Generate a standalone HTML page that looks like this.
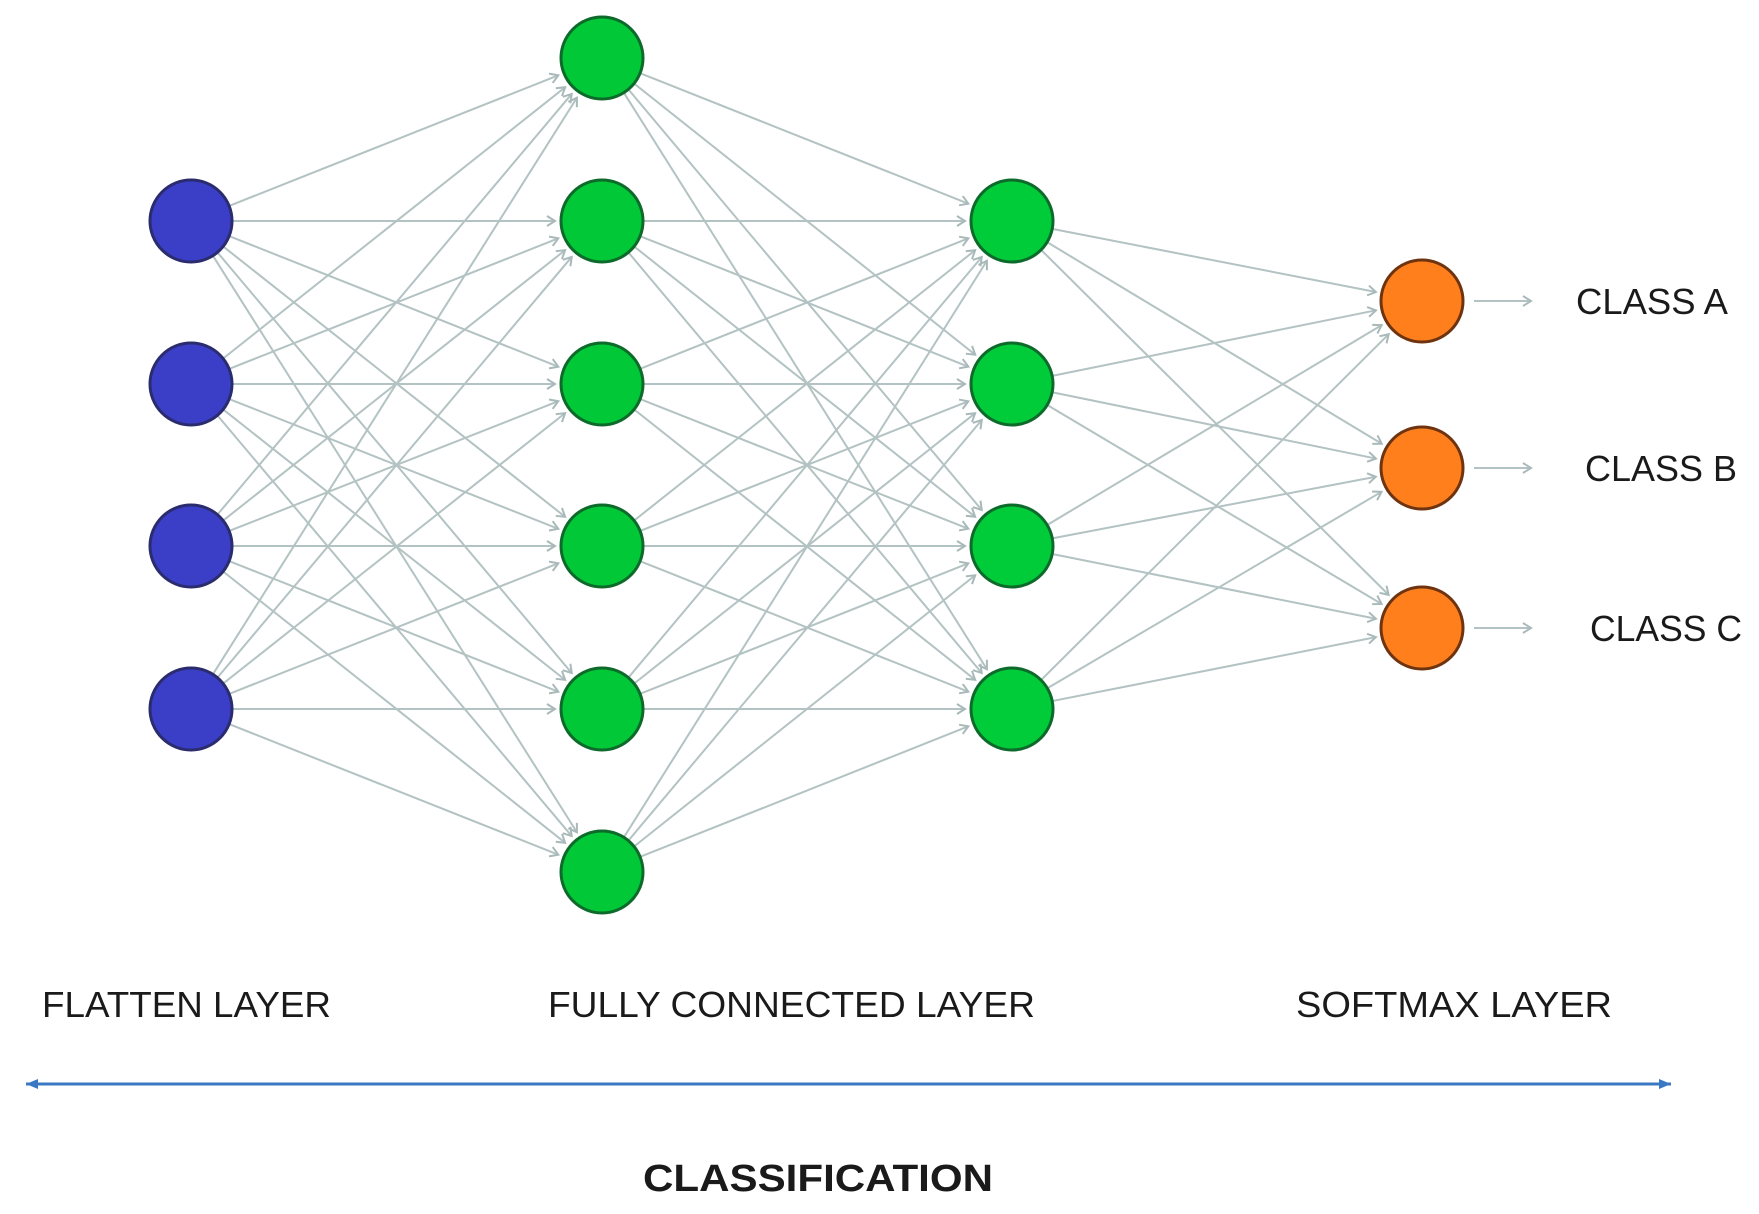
<!DOCTYPE html>
<html><head><meta charset="utf-8"><style>
html,body{margin:0;padding:0;background:#fff}
svg{display:block}
text{font-family:"Liberation Sans",sans-serif;fill:#1a1a1a}
</style></head><body>
<svg id="s" width="1759" height="1214" viewBox="0 0 1759 1214" xmlns="http://www.w3.org/2000/svg">
<defs>
<marker id="ah" markerWidth="12" markerHeight="12" refX="10" refY="6" orient="auto" markerUnits="userSpaceOnUse">
<path d="M2,1 L10,6 L2,11" fill="none" stroke="#a9b9b9" stroke-width="2"/>
</marker>
<marker id="bl" markerWidth="14" markerHeight="12" refX="12" refY="6" orient="auto" markerUnits="userSpaceOnUse">
<path d="M0,1 L12,6 L0,11 Z" fill="#3b78c3"/>
</marker>
<marker id="br" markerWidth="14" markerHeight="12" refX="12" refY="6" orient="auto-start-reverse" markerUnits="userSpaceOnUse">
<path d="M0,1 L12,6 L0,11 Z" fill="#3b78c3"/>
</marker>
</defs>
<g id="lines" stroke="#b3c2c2" stroke-width="2" fill="none"></g>
<g id="nodes"></g>
<line x1="1474" y1="301" x2="1531" y2="301" stroke="#b3c2c2" stroke-width="2" marker-end="url(#ah)"/>
<line x1="1474" y1="468" x2="1531" y2="468" stroke="#b3c2c2" stroke-width="2" marker-end="url(#ah)"/>
<line x1="1474" y1="628" x2="1531" y2="628" stroke="#b3c2c2" stroke-width="2" marker-end="url(#ah)"/>
<text x="1576" y="314" font-size="36" textLength="152" lengthAdjust="spacingAndGlyphs">CLASS A</text>
<text x="1585" y="481" font-size="36" textLength="152" lengthAdjust="spacingAndGlyphs">CLASS B</text>
<text x="1590" y="641" font-size="36" textLength="152" lengthAdjust="spacingAndGlyphs">CLASS C</text>
<text x="42" y="1017" font-size="36" textLength="289" lengthAdjust="spacingAndGlyphs">FLATTEN LAYER</text>
<text x="548" y="1017" font-size="36" textLength="487" lengthAdjust="spacingAndGlyphs">FULLY CONNECTED LAYER</text>
<text x="1296" y="1017" font-size="36" textLength="316" lengthAdjust="spacingAndGlyphs">SOFTMAX LAYER</text>
<line x1="26" y1="1084" x2="1671" y2="1084" stroke="#3b78c3" stroke-width="3" marker-start="url(#br)" marker-end="url(#bl)"/>
<text x="643" y="1191" font-size="38" font-weight="bold" textLength="350" lengthAdjust="spacingAndGlyphs">CLASSIFICATION</text>
</svg>
<script>
var L=[
 {x:191,ys:[221,384,546,709],f:"#3b3fc7",s:"#2a2c6e"},
 {x:602,ys:[58,221,384,546,709,872],f:"#00c837",s:"#0d6a2a"},
 {x:1012,ys:[221,384,546,709],f:"#00cc3a",s:"#0d6a2a"},
 {x:1422,ys:[301,468,628],f:"#ff7f1d",s:"#6e3410"}];
var R=41,NS="http://www.w3.org/2000/svg";
var lg=document.getElementById("lines"),ng=document.getElementById("nodes");
for(var i=0;i<3;i++){var a=L[i],b=L[i+1];
 a.ys.forEach(function(y1){b.ys.forEach(function(y2){
  var dx=b.x-a.x,dy=y2-y1,d=Math.sqrt(dx*dx+dy*dy),ux=dx/d,uy=dy/d;
  var l=document.createElementNS(NS,"line");
  l.setAttribute("x1",a.x+ux*R);l.setAttribute("y1",y1+uy*R);
  l.setAttribute("x2",b.x-ux*(R+6));l.setAttribute("y2",y2-uy*(R+6));
  l.setAttribute("marker-end","url(#ah)");lg.appendChild(l);});});}
L.forEach(function(c){c.ys.forEach(function(y){
 var e=document.createElementNS(NS,"circle");e.setAttribute("cx",c.x);e.setAttribute("cy",y);
 e.setAttribute("r",R);e.setAttribute("fill",c.f);e.setAttribute("stroke",c.s);e.setAttribute("stroke-width","3");ng.appendChild(e);});});
</script>
</body></html>
